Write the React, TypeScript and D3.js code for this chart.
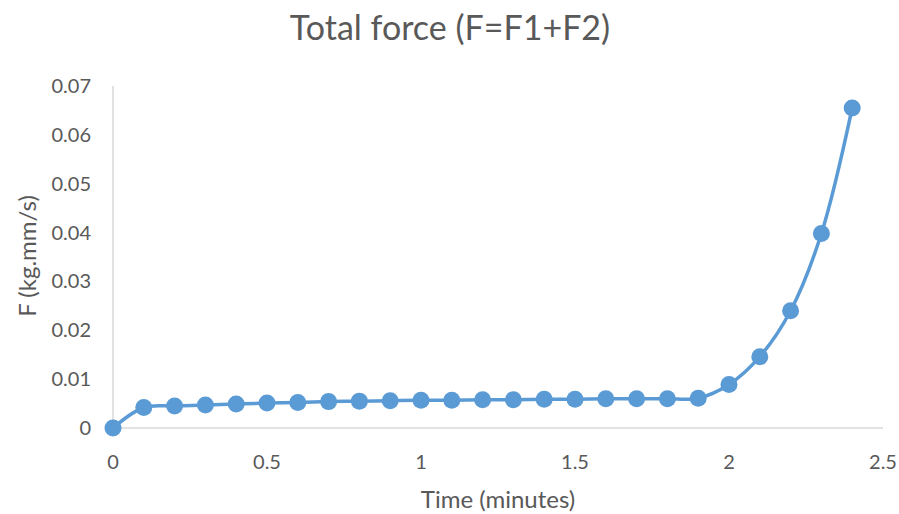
import { useEffect, useRef } from 'react';
import * as d3 from 'd3';

const timeMinutes = [0, 0.1, 0.2, 0.3, 0.4, 0.5, 0.6, 0.7, 0.8, 0.9, 1.0, 1.1, 1.2, 1.3, 1.4, 1.5, 1.6, 1.7, 1.8, 1.9, 2.0, 2.1, 2.2, 2.3, 2.4];
const totalForce = [0, 0.0042, 0.0045, 0.0047, 0.0049, 0.0051, 0.0052, 0.0054, 0.0055, 0.0056, 0.0057, 0.0057, 0.0058, 0.0058, 0.0059, 0.0059, 0.006, 0.006, 0.006, 0.0061, 0.0089, 0.0146, 0.024, 0.0398, 0.0655];
const xTicks = [0, 0.5, 1, 1.5, 2, 2.5];
const yTicks = [0, 0.01, 0.02, 0.03, 0.04, 0.05, 0.06, 0.07];

const COLORS = {
  series: '#5B9BD5',
  text: '#595959',
  axis: '#D9D9D9',
};

const FONT = 'Lato, "Open Sans", sans-serif';

export default function App() {
  const svgRef = useRef<SVGSVGElement>(null);
  const width = 899;
  const height = 514;

  useEffect(() => {
    if (!svgRef.current) return;
    const svg = d3.select(svgRef.current);
    svg.selectAll('*').remove();

    const margin = { top: 86, right: 16, bottom: 86, left: 113 };
    const x = d3.scaleLinear().domain([0, 2.5]).range([margin.left, width - margin.right]);
    const y = d3.scaleLinear().domain([0, 0.07]).range([height - margin.bottom, margin.top]);

    // axis lines
    svg.append('line')
      .attr('x1', x(0)).attr('x2', x(0))
      .attr('y1', y(0)).attr('y2', y(0.07))
      .attr('stroke', COLORS.axis).attr('stroke-width', 1.5);
    svg.append('line')
      .attr('x1', x(0)).attr('x2', x(2.5))
      .attr('y1', y(0)).attr('y2', y(0))
      .attr('stroke', COLORS.axis).attr('stroke-width', 1.5);

    // y tick labels
    svg.append('g')
      .selectAll('text')
      .data(yTicks)
      .join('text')
      .attr('x', x(0) - 22)
      .attr('y', d => y(d))
      .attr('dy', '0.35em')
      .attr('text-anchor', 'end')
      .attr('font-family', FONT)
      .attr('font-size', 20)
      .attr('fill', COLORS.text)
      .text(d => (d === 0 ? '0' : d.toFixed(2)));

    // x tick labels
    svg.append('g')
      .selectAll('text')
      .data(xTicks)
      .join('text')
      .attr('x', d => x(d))
      .attr('y', y(0) + 34)
      .attr('dy', '0.35em')
      .attr('text-anchor', 'middle')
      .attr('font-family', FONT)
      .attr('font-size', 20)
      .attr('fill', COLORS.text)
      .text(d => String(d));

    const pts = timeMinutes.map((t, i) => [t, totalForce[i]] as [number, number]);

    const line = d3.line<[number, number]>()
      .x(d => x(d[0]))
      .y(d => y(d[1]))
      .curve(d3.curveCatmullRom.alpha(0.5));

    svg.append('path')
      .datum(pts)
      .attr('d', line)
      .attr('fill', 'none')
      .attr('stroke', COLORS.series)
      .attr('stroke-width', 3.5)
      .attr('stroke-linejoin', 'round');

    svg.append('g')
      .selectAll('circle')
      .data(pts)
      .join('circle')
      .attr('cx', d => x(d[0]))
      .attr('cy', d => y(d[1]))
      .attr('r', 8.5)
      .attr('fill', COLORS.series);

    // title
    svg.append('text')
      .attr('x', 450)
      .attr('y', 28)
      .attr('dy', '0.35em')
      .attr('text-anchor', 'middle')
      .attr('font-family', FONT)
      .attr('font-size', 34)
      .attr('fill', COLORS.text)
      .text('Total force (F=F1+F2)');

    // x axis title
    svg.append('text')
      .attr('x', (x(0) + x(2.5)) / 2)
      .attr('y', 500)
      .attr('dy', '0.35em')
      .attr('text-anchor', 'middle')
      .attr('font-family', FONT)
      .attr('font-size', 24)
      .attr('fill', COLORS.text)
      .text('Time (minutes)');

    // y axis title
    svg.append('text')
      .attr('transform', `translate(28,256) rotate(-90)`)
      .attr('dy', '0.35em')
      .attr('text-anchor', 'middle')
      .attr('font-family', FONT)
      .attr('font-size', 24)
      .attr('fill', COLORS.text)
      .text('F (kg.mm/s)');
  }, []);

  return (
    <svg
      ref={svgRef}
      width={width}
      height={height}
      style={{ position: 'absolute', left: 0, top: 0, background: '#fff' }}
    />
  );
}
